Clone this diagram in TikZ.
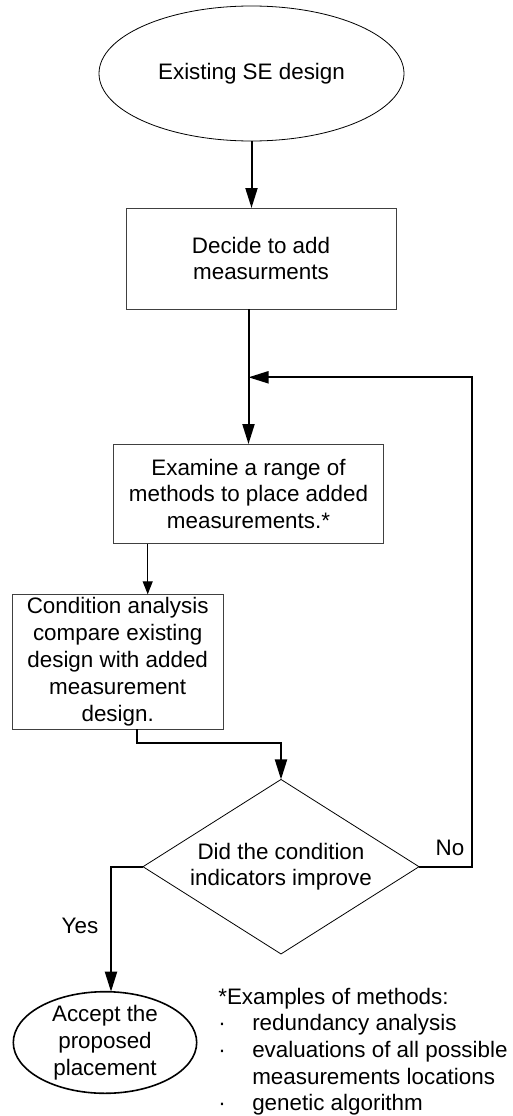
\documentclass[tikz,border=0pt]{standalone}
\usepackage{fontspec}
\setmainfont{Liberation Sans}
\usetikzlibrary{shapes.geometric,arrows.meta}
\begin{document}
\begin{tikzpicture}[x=1pt,y=-1pt,
  every node/.style={font=\fontsize{22.4}{26.8}\selectfont, inner sep=0pt, outer sep=0pt},
  terminal/.style={ellipse, draw, line width=0.8pt},
  stepbox/.style={rectangle, draw=black!75, line width=0.9pt, align=center},
  decision/.style={diamond, draw, line width=0.8pt, align=center, aspect=1.58},
  flow/.style={line width=2pt, -{Triangle[length=20pt,width=12pt]}},
  thinflow/.style={line width=1.1pt, -{Triangle[length=13pt,width=10pt]}},
  note/.style={anchor=base west}]
\useasboundingbox (0,0) rectangle (512,1116);

% process nodes
\node[terminal, minimum width=305pt, minimum height=135pt] (start) at (251.5,73.5) {Existing SE design};
\node[stepbox, minimum width=270pt, minimum height=101pt] (dec) at (261,258.5) {Decide to add\\measurments};
\node[stepbox, minimum width=270.4pt, minimum height=99.7pt] (exam) at (248.5,493.9)
  {Examine a range of\\methods to place added\\measurements.*};
\node[stepbox, minimum width=211.3pt, minimum height=135pt] (cond) at (117.7,661.8)
  {Condition analysis\\compare existing\\design with added\\measurement\\design.};
\node[decision, minimum width=276pt, minimum height=174.5pt] (dia) at (281,866.7)
  {Did the condition\\indicators improve};
\node[terminal, line width=1.6pt, minimum width=183.4pt, minimum height=101.6pt] (acc) at (105,1042.5) {};
\node[align=center] (acctext) at (acc.center) {Accept the\\proposed\\placement};

% branch labels
\node (nolab) at (450,848.3) {No};
\node (yeslab) at (80,925.7) {Yes};

% loop-back junction points
\coordinate (loopc) at (472,377.3);
\coordinate (merge) at (248.5,377.3);

% connectors
\draw[flow] (start.south) -- (start.south |- dec.north);
\draw[flow] (exam.north |- dec.south) -- (exam.north);
\draw[flow] (dia.east) -| (loopc) -- (merge);
\draw[thinflow] ([xshift=34.4pt]exam.south west) -- ([xshift=34.4pt]exam.south west |- cond.north);
\draw[flow] ([xshift=19.6pt]cond.south) -- ++(0,14) -| (dia.north);
\draw[flow] (dia.west) -| ([xshift=6pt]acc.north);

% footnote on methods
\node[note] (note0) at (218.3,1004) {*Examples of methods:};
\node[note] (note1) at (218.3,1030.7) {\makebox[34pt][l]{·}redundancy analysis};
\node[note] (note2) at (218.3,1057.3) {\makebox[34pt][l]{·}evaluations of all possible};
\node[note] (note3) at (252.3,1084) {measurements locations};
\node[note] (note4) at (218.3,1110) {\makebox[34pt][l]{·}genetic algorithm};
\end{tikzpicture}
\end{document}
